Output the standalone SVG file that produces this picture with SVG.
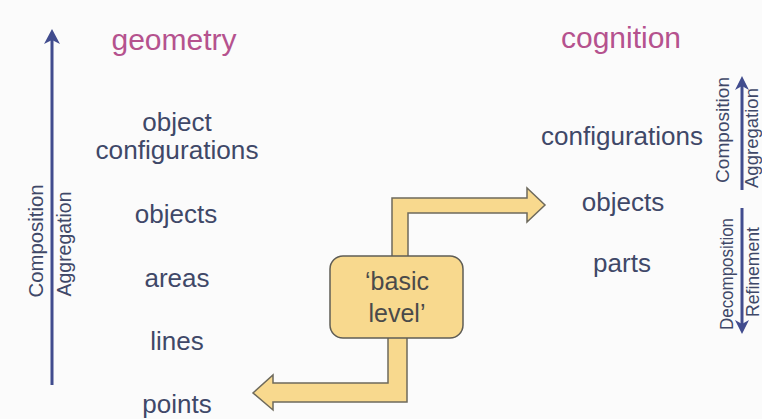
<svg xmlns="http://www.w3.org/2000/svg" width="762" height="419" viewBox="0 0 762 419">
<defs>
<style>
.t{font-family:"Liberation Sans",Arial,sans-serif;fill:#3f4868;text-anchor:middle;font-size:26px}
.h{font-family:"Liberation Sans",Arial,sans-serif;fill:#b5528e;text-anchor:middle;font-size:30px}
.v{font-family:"Liberation Sans",Arial,sans-serif;fill:#3f4868;text-anchor:middle}
.ax{stroke:#414c8e;stroke-width:3;fill:none}
.ah{fill:#414c8e}
.band{fill:#f8d98e;stroke:#6e6a5c;stroke-width:1.5;stroke-linejoin:miter}
.box{fill:#f8d98e;stroke:#5f5d55;stroke-width:1.5}
.bt{font-family:"Liberation Sans",Arial,sans-serif;fill:#4a4a4a;text-anchor:middle;font-size:25px}
</style>
</defs>
<rect width="762" height="419" fill="#fbfbfb"/>
<g id="connectors">
<g id="left-axis">
<line class="ax" x1="52" y1="385" x2="52" y2="36"/>
<path class="ah" d="M52,29 L60,44 L52,40 L44,44 Z"/>
</g>
<g id="right-up-axis">
<line class="ax" x1="742" y1="190" x2="742" y2="83"/>
<path class="ah" d="M742,76 L749,90 L742,86 L735,90 Z"/>
</g>
<g id="right-down-axis">
<line class="ax" x1="742" y1="208" x2="742" y2="326"/>
<path class="ah" d="M742,334 L749,320 L742,324 L735,320 Z"/>
</g>
<path id="arrow-up-right" class="band" d="M392,258 L392,198 L527,198 L527,188 L545,205 L527,222 L527,213 L408,213 L408,258"/>
<path id="arrow-down-left" class="band" d="M407,336 L407,402 L273,402 L273,410 L253,393 L273,375 L273,383 L388,383 L388,336"/>
</g>
<g id="left-labels">
<text class="v" font-size="19.5" transform="translate(43,241) rotate(-90)" textLength="113" lengthAdjust="spacingAndGlyphs">Composition</text>
<text class="v" font-size="19.5" transform="translate(71,244) rotate(-90)" textLength="105" lengthAdjust="spacingAndGlyphs">Aggregation</text>
</g>
<g id="right-labels">
<text class="v" font-size="18" transform="translate(729,130) rotate(-90)" textLength="106" lengthAdjust="spacingAndGlyphs">Composition</text>
<text class="v" font-size="18" transform="translate(758,138) rotate(-90)" textLength="100" lengthAdjust="spacingAndGlyphs">Aggregation</text>
<text class="v" font-size="17.5" transform="translate(733,274) rotate(-90)" textLength="112" lengthAdjust="spacingAndGlyphs">Decomposition</text>
<text class="v" font-size="17.5" transform="translate(759,272) rotate(-90)" textLength="90" lengthAdjust="spacingAndGlyphs">Refinement</text>
</g>
<g id="geometry"><text class="h" x="174" y="50">geometry</text></g>
<g id="object-configurations"><text class="t" font-size="25"><tspan x="177" y="131">object</tspan><tspan x="177" y="159" textLength="163" lengthAdjust="spacingAndGlyphs">configurations</tspan></text></g>
<g id="objects-left"><text class="t" x="176" y="223">objects</text></g>
<g id="areas"><text class="t" x="177" y="287">areas</text></g>
<g id="lines"><text class="t" x="177" y="350">lines</text></g>
<g id="points"><text class="t" x="177" y="413">points</text></g>
<g id="cognition"><text class="h" x="621" y="48">cognition</text></g>
<g id="configurations"><text class="t" x="622" y="145">configurations</text></g>
<g id="objects-right"><text class="t" x="623" y="211">objects</text></g>
<g id="parts"><text class="t" x="622" y="272">parts</text></g>
<g id="basic-level">
<rect class="box" x="330" y="256" width="133" height="82" rx="13"/>
<text class="bt"><tspan x="397" y="290">‘basic</tspan><tspan x="397" y="322">level’</tspan></text>
</g>
</svg>
